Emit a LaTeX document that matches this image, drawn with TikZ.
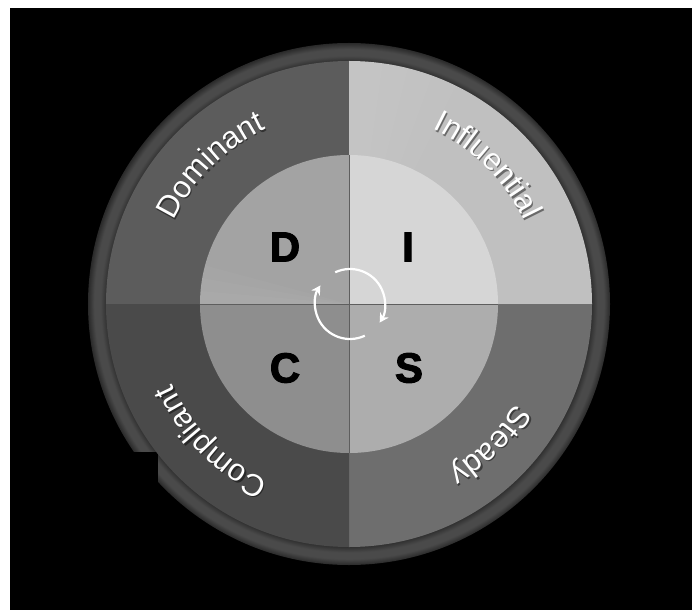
\documentclass[tikz,border=0pt]{standalone}
\usepackage{fontspec}
\setmainfont{Liberation Sans}
\newfontfamily\heavyfont[FakeBold=2.5]{Liberation Sans}
\usetikzlibrary{decorations.text,arrows.meta}
\definecolor{domout}{HTML}{5C5C5C}
\definecolor{domin}{HTML}{A3A3A3}
\definecolor{infout}{HTML}{C0C0C0}
\definecolor{infin}{HTML}{D6D6D6}
\definecolor{steout}{HTML}{6E6E6E}
\definecolor{stein}{HTML}{ADADAD}
\definecolor{comout}{HTML}{4A4A4A}
\definecolor{comin}{HTML}{8E8E8E}
\definecolor{ringdark}{HTML}{2E2E2E}
\definecolor{ringmid}{HTML}{4A4A4A}
\definecolor{ringedge}{HTML}{2A2A2A}
\definecolor{divcol}{HTML}{5E5E5E}
\pgfdeclareradialshading{ringshade}{\pgfpoint{0bp}{0bp}}{color(0bp)=(ringdark); color(23.2bp)=(ringdark); color(23.8bp)=(ringmid); color(24.4bp)=(ringmid); color(25bp)=(ringedge); color(50bp)=(black)}
\newcommand{\arcfont}{\fontsize{31}{31}\selectfont\color{white}}
\newcommand{\arcshade}{\fontsize{31}{31}\selectfont\color{black}}
\tikzset{
  letter/.style={font=\fontsize{42}{42}\heavyfont\bfseries, text=black, inner sep=0pt},
  divline/.style={draw=divcol, line width=0.8pt},
  glow/.style={fill=white, opacity=0.025},
  cyc/.style={draw=white, line width=2.2pt, -{Stealth[length=9pt,width=10pt]}},
  arctext/.style={decorate, decoration={text along path, text align=center, text={|\arcfont|#1}}},
  arcshadow/.style={decorate, decoration={text along path, text align=center, text={|\arcshade|#1}}}
}
\begin{document}
\begin{tikzpicture}[x=1pt,y=1pt]
\useasboundingbox (-349,304) rectangle (343,-306);
\fill[white] (-349,304) rectangle (343,-306);
\fill[black] (-339,296) rectangle (343,-306);
\coordinate (ctr) at (0,0);
% outer ring
\shade[shading=ringshade] (ctr) circle (261);
\fill[black] (-269,-148) rectangle (-191,-180);
% outer quadrants
\fill[domout] (ctr) -- (180:243) arc[start angle=180,end angle=90,radius=243] -- cycle;
\fill[infout] (ctr) -- (90:243) arc[start angle=90,end angle=0,radius=243] -- cycle;
\foreach \e in {82,76,70,64}{
  \fill[glow] (ctr) -- (90:243) arc[start angle=90,end angle=\e,radius=243] -- cycle;
}
\fill[steout] (ctr) -- (0:243) arc[start angle=0,end angle=-90,radius=243] -- cycle;
\fill[comout] (ctr) -- (-90:243) arc[start angle=-90,end angle=-180,radius=243] -- cycle;
% inner quadrants
\fill[domin] (ctr) -- (180:149) arc[start angle=180,end angle=90,radius=149] -- cycle;
\foreach \e in {175,170,165}{
  \fill[glow] (ctr) -- (180:149) arc[start angle=180,end angle=\e,radius=149] -- cycle;
}
\fill[infin] (ctr) -- (90:149) arc[start angle=90,end angle=0,radius=149] -- cycle;
\fill[stein] (ctr) -- (0:149) arc[start angle=0,end angle=-90,radius=149] -- cycle;
\fill[comin] (ctr) -- (-90:149) arc[start angle=-90,end angle=-180,radius=149] -- cycle;
\draw[divline] (180:149) -- (0:149);
\draw[divline] (90:149) -- (-90:149);
% letters
\node[letter] (D) at (-64,57) {D};
\node[letter] (I) at (59,57) {I};
\node[letter] (C) at (-64,-64) {C};
\node[letter] (S) at (60,-64) {S};
% curved labels: shadows
\begin{scope}[opacity=0.45, shift={(1.2,-1.6)}]
\path[arcshadow=Dominant] (180:194) arc[start angle=180,end angle=90,radius=194];
\path[arcshadow=Influential] (90:194) arc[start angle=90,end angle=0,radius=194];
\path[arcshadow=Steady] (0:194) arc[start angle=0,end angle=-90,radius=194];
\path[arcshadow=Compliant] (-90:194) arc[start angle=-90,end angle=-180,radius=194];
\end{scope}
\path[arctext=Dominant] (180:194) arc[start angle=180,end angle=90,radius=194];
\path[arctext=Influential] (90:194) arc[start angle=90,end angle=0,radius=194];
\path[arctext=Steady] (0:194) arc[start angle=0,end angle=-90,radius=194];
\path[arctext=Compliant] (-90:194) arc[start angle=-90,end angle=-180,radius=194];
% cycle arrows
\begin{scope}[shift={(1,0)}]
\draw[cyc] (115:35) arc[start angle=115,end angle=-32,radius=35];
\draw[cyc] (-65:35) arc[start angle=-65,end angle=-212,radius=35];
\end{scope}
\end{tikzpicture}
\end{document}
